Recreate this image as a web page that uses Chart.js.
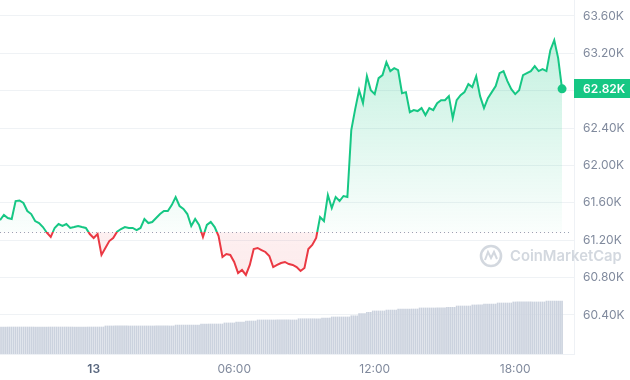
<!DOCTYPE html>
<html>
<head>
<meta charset="utf-8">
<script src="https://cdn.jsdelivr.net/npm/chart.js@4.4.1/dist/chart.umd.min.js"></script>
<style>
  html, body { margin: 0; padding: 0; background: #fff; }
  #wrap { width: 630px; height: 380px; position: relative; }
</style>
</head>
<body>
<div id="wrap"><canvas id="priceChart"></canvas></div>
<script>
// 24h window, hour 0 = 20:00 of the previous day
// price sampled every 10 minutes (USD)
var priceStepHours = 1 / 6;
var prices = [
  61416, 61470, 61437, 61427, 61619, 61625, 61598, 61512, 61480, 61405,
  61384, 61341, 61280, 61234, 61331, 61373, 61352, 61373, 61331, 61341,
  61352, 61341, 61331, 61266, 61224, 61266, 61042, 61117, 61191, 61224,
  61290, 61320, 61341, 61331, 61331, 61309, 61331, 61427, 61384, 61395,
  61437, 61480, 61512, 61512, 61576, 61662, 61566, 61534, 61480, 61352,
  61427, 61363, 61234, 61363, 61395, 61341, 61245, 61020, 61052, 61042,
  60967, 60849, 60881, 60828, 60935, 61106, 61117, 61095, 61074, 61031,
  60913, 60935, 60956, 60967, 60945, 60935, 60913, 60871, 60903, 61106,
  61149, 61224, 61448, 61405, 61683, 61544, 61662, 61619, 61673, 61662,
  62379, 62603, 62806, 62667, 62956, 62806, 62764, 62935, 62967, 63106,
  63010, 63042, 63020, 62774, 62785, 62571, 62593, 62582, 62614, 62539,
  62614, 62593, 62667, 62699, 62699, 62742, 62507, 62699, 62753, 62785,
  62871, 62839, 62956, 62742, 62614, 62721, 62785, 62849, 62988, 63010,
  62903, 62817, 62764, 62806, 62967, 62988, 63010, 63063, 63010, 63031,
  63010, 63234, 63341, 63149, 62820
];

// 24h volume, every 5 minutes (billion USD)
var volumeStepHours = 1 / 12;
var volumes = [
  18.0, 18.0, 18.0, 18.0, 18.0, 18.0, 18.0, 18.0, 18.0, 18.0, 18.0, 18.0, 18.0, 18.0, 18.0, 18.0, 18.0, 18.0,
  18.0, 18.0, 18.0, 18.0, 18.0, 18.0, 18.0, 18.0, 18.0, 18.0, 18.0, 18.0, 18.0, 18.0, 18.0, 18.0, 18.0, 18.0,
  18.0, 18.0, 18.0, 18.0, 18.0, 18.0, 18.0, 18.0, 18.0, 18.0, 18.0, 18.0, 18.0, 18.0, 18.0, 18.0, 18.0, 18.0,
  18.7, 18.7, 18.7, 18.7, 18.7, 18.7, 18.7, 18.7, 18.7, 18.7, 18.7, 18.7, 18.7, 18.7, 18.7, 18.7, 18.7, 18.7,
  18.7, 18.7, 18.7, 18.7, 18.7, 18.7, 18.7, 18.7, 18.7, 18.7, 18.7, 18.7, 18.7, 18.7, 18.7, 18.7, 18.7, 18.7,
  19.3, 19.3, 19.3, 19.3, 19.3, 19.3, 19.3, 19.3, 19.3, 19.3, 19.3, 19.3, 19.3,
  20.0, 20.0, 20.0, 20.0, 20.0, 20.0, 20.0, 20.0, 20.0, 20.0, 20.0, 20.0,
  20.7, 20.7, 20.7, 20.7, 20.7, 20.7, 21.3, 21.3, 21.3, 21.3, 21.3, 22.0, 22.0, 22.0, 22.0, 22.0, 22.0,
  22.7, 22.7, 22.7, 22.7, 22.7, 22.7, 22.7, 22.7, 22.7, 22.7, 22.7, 22.7, 22.7, 22.7, 22.7, 22.7, 22.7, 22.7, 22.7, 22.7, 22.7,
  23.5, 23.5, 23.5, 23.5, 23.5, 23.5, 23.5, 23.5, 23.5, 23.5, 23.5, 23.5, 24.0, 24.0, 24.0, 24.0, 24.0,
  24.7, 24.7, 24.7, 24.7, 24.7, 24.7, 24.7, 24.7, 24.7, 24.7, 25.5, 25.5, 25.5, 25.5, 26.9, 26.9, 26.9, 26.9, 27.8, 27.8, 27.8,
  28.7, 28.7, 28.7, 28.7, 28.7, 28.7, 28.7, 29.3, 29.3, 29.3, 29.3, 29.3, 29.3,
  30.0, 30.0, 30.0, 30.0, 30.0, 30.0, 30.0, 30.0, 30.0, 30.0, 30.0,
  30.7, 30.7, 30.7, 30.7, 30.7, 30.7, 30.7, 30.7, 30.7, 30.7, 30.7, 30.7, 30.7, 30.7,
  31.1, 31.1, 31.1, 31.1, 31.1, 32.0, 32.0, 32.0, 32.0, 32.0, 32.0, 32.0, 32.0, 32.7, 32.7, 32.7, 32.7, 32.7, 32.7,
  33.3, 33.3, 33.3, 33.3, 33.3, 33.3, 33.3, 34.0, 34.0, 34.0, 34.0, 34.0, 34.0, 34.0, 34.0,
  34.7, 34.7, 34.7, 34.7, 34.7, 34.7, 34.7, 34.7, 34.7, 34.7, 34.7, 34.7, 34.7, 34.7, 34.7, 34.7, 34.7,
  35.3, 35.3, 35.3, 35.3, 35.3, 35.3, 35.3, 35.3, 35.3
];

var basePrice = 61285; // price 24h ago (dotted line)

var xTickHours = [4, 10, 16, 22];
var xTickLabels = ['13', '06:00', '12:00', '18:00'];
var yTicks = [60400, 60800, 61200, 61600, 62000, 62400, 62800, 63200, 63600];

var green = '#16c784';
var red = '#ea3943';
var FONT = 'Inter, "Noto Sans", sans-serif';

var pricePoints = prices.map(function (p, i) { return { x: i * priceStepHours, y: p }; });
var volumePoints = volumes.map(function (v, i) { return { x: i * volumeStepHours, y: v }; });

function baseFrac(chart) {
  var area = chart.chartArea;
  var y = chart.scales.y.getPixelForValue(basePrice);
  return Math.min(1, Math.max(0, (y - area.top) / (area.bottom - area.top)));
}

// green above the base price, red below
function lineColor(ctx) {
  var chart = ctx.chart, area = chart.chartArea;
  if (!area) return green;
  var f = baseFrac(chart);
  var g = chart.ctx.createLinearGradient(0, area.top, 0, area.bottom);
  g.addColorStop(0, green);
  g.addColorStop(f, green);
  g.addColorStop(f, red);
  g.addColorStop(1, red);
  return g;
}

function fillColor(ctx) {
  var chart = ctx.chart, area = chart.chartArea;
  if (!area) return 'rgba(22,199,132,0.1)';
  var f = baseFrac(chart);
  var g = chart.ctx.createLinearGradient(0, area.top, 0, area.bottom);
  g.addColorStop(0, 'rgba(22,199,132,0.30)');
  g.addColorStop(f, 'rgba(22,199,132,0.02)');
  g.addColorStop(f, 'rgba(234,57,67,0.08)');
  g.addColorStop(1, 'rgba(234,57,67,0.14)');
  return g;
}

// dotted base line + watermark, under the line
var underlay = {
  id: 'underlay',
  beforeDatasetsDraw: function (chart) {
    var c = chart.ctx, area = chart.chartArea;
    var y = Math.round(chart.scales.y.getPixelForValue(basePrice)) + 0.5;
    c.save();
    c.strokeStyle = '#9aa3b5';
    c.lineWidth = 1;
    c.setLineDash([1, 3]);
    c.beginPath();
    c.moveTo(area.left, y);
    c.lineTo(area.right - 4, y);
    c.stroke();
    c.setLineDash([]);

    // CoinMarketCap watermark
    var wm = '#d3d8df';
    c.strokeStyle = wm;
    c.lineWidth = 2.6;
    c.beginPath();
    c.arc(491, 256, 10, 0, Math.PI * 2);
    c.stroke();
    c.lineWidth = 2;
    c.beginPath();
    c.moveTo(485, 260);
    c.lineTo(488, 252);
    c.lineTo(491, 258);
    c.lineTo(494, 252);
    c.lineTo(497, 259);
    c.stroke();
    var size = 16;
    c.font = '600 ' + size + 'px ' + FONT;
    var w = c.measureText('CoinMarketCap').width;
    size = size * 112 / w;
    c.font = '600 ' + size.toFixed(1) + 'px ' + FONT;
    c.fillStyle = wm;
    c.textBaseline = 'middle';
    c.textAlign = 'left';
    c.fillText('CoinMarketCap', 510, 257);
    c.restore();
  }
};

// last price tag on the right axis
var priceTag = {
  id: 'priceTag',
  afterDraw: function (chart) {
    var c = chart.ctx, area = chart.chartArea;
    var last = prices[prices.length - 1];
    var y = chart.scales.y.getPixelForValue(last);
    c.save();
    c.fillStyle = green;
    c.fillRect(area.right, Math.round(y - 9.5), chart.width - area.right, 19);
    c.fillStyle = '#ffffff';
    c.font = '600 12px ' + FONT;
    c.textBaseline = 'middle';
    c.textAlign = 'left';
    c.fillText((last / 1000).toFixed(2) + 'K', area.right + 9, y + 0.5);
    c.restore();
  }
};

function noPadding(scale) {
  scale.paddingTop = 0;
  scale.paddingBottom = 0;
  scale.paddingLeft = 0;
  scale.paddingRight = 0;
}

new Chart(document.getElementById('priceChart'), {
  data: {
    datasets: [{
      type: 'line',
      label: 'Price',
      data: pricePoints,
      yAxisID: 'y',
      order: 1,
      borderColor: lineColor,
      backgroundColor: fillColor,
      borderWidth: 2,
      tension: 0,
      fill: { target: { value: basePrice } },
      pointRadius: function (ctx) { return ctx.dataIndex === prices.length - 1 ? 4.5 : 0; },
      pointBackgroundColor: green,
      pointBorderWidth: 0,
      pointHoverRadius: 0
    }, {
      type: 'bar',
      label: 'Volume',
      data: volumePoints,
      yAxisID: 'yVol',
      order: 2,
      backgroundColor: '#cbd2de',
      barThickness: 1
    }]
  },
  options: {
    responsive: true,
    maintainAspectRatio: false,
    animation: false,
    layout: { padding: 0, autoPadding: false },
    plugins: {
      legend: { display: false },
      tooltip: { enabled: false }
    },
    scales: {
      x: {
        type: 'linear',
        offset: false,
        min: 0,
        max: 24.51,
        grid: { display: false, drawTicks: false, offset: false },
        border: { display: true, color: '#eef1f5' },
        afterBuildTicks: function (scale) {
          scale.ticks = xTickHours.map(function (h) { return { value: h }; });
        },
        afterFit: function (scale) { scale.height = 26; noPadding(scale); },
        ticks: {
          padding: 8,
          maxRotation: 0,
          autoSkip: false,
          color: function (ctx) { return ctx.tick && ctx.tick.value === xTickHours[0] ? '#58667e' : '#808a9d'; },
          font: function (ctx) {
            return { family: FONT, size: 12, weight: ctx.tick && ctx.tick.value === xTickHours[0] ? '600' : '400' };
          },
          callback: function (v) { return xTickLabels[xTickHours.indexOf(v)]; }
        }
      },
      y: {
        type: 'linear',
        position: 'right',
        min: 59982,
        max: 63771,
        grid: { color: '#eff2f5', drawTicks: false },
        border: { display: true, color: '#eef1f5' },
        afterBuildTicks: function (scale) {
          scale.ticks = yTicks.map(function (v) { return { value: v }; });
        },
        afterFit: function (scale) { scale.width = 56; noPadding(scale); },
        ticks: {
          padding: 9,
          color: '#808a9d',
          font: { family: FONT, size: 12 },
          callback: function (v) { return (v / 1000).toFixed(2) + 'K'; }
        }
      },
      yVol: {
        type: 'linear',
        display: false,
        min: 0,
        max: 236
      }
    }
  },
  plugins: [underlay, priceTag]
});
</script>
</body>
</html>
